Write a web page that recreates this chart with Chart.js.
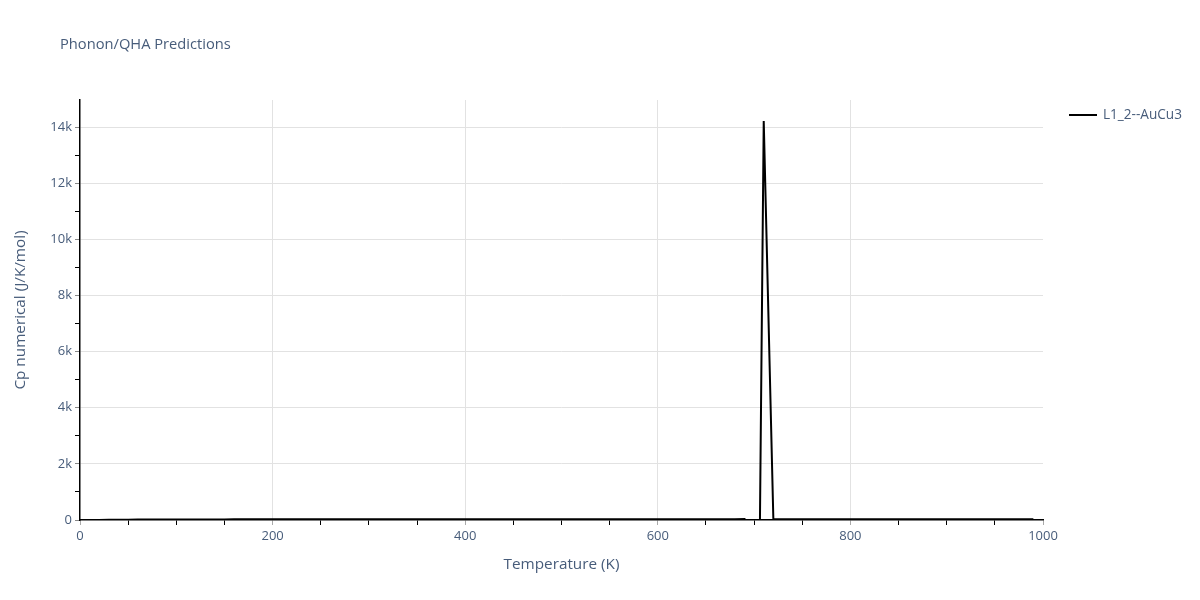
<!DOCTYPE html>
<html>
<head>
<meta charset="utf-8">
<script src="https://cdn.jsdelivr.net/npm/chart.js@4.4.0/dist/chart.umd.min.js"></script>
<style>
  html, body { margin: 0; background: #fff; }
  #wrap { width: 1200px; height: 600px; }
</style>
</head>
<body>
<div id="wrap"><canvas id="cpChart" width="1200" height="600"></canvas></div>
<script>
// 데이터
const temperatures = [
  0, 10, 20, 30, 40, 50, 60, 70, 80, 90,
  100, 110, 120, 130, 140, 150, 160, 170, 180, 190,
  200, 210, 220, 230, 240, 250, 260, 270, 280, 290,
  300, 310, 320, 330, 340, 350, 360, 370, 380, 390,
  400, 410, 420, 430, 440, 450, 460, 470, 480, 490,
  500, 510, 520, 530, 540, 550, 560, 570, 580, 590,
  600, 610, 620, 630, 640, 650, 660, 670, 680, 690,
  700, 710, 720, 730, 740, 750, 760, 770, 780, 790,
  800, 810, 820, 830, 840, 850, 860, 870, 880, 890,
  900, 910, 920, 930, 940, 950, 960, 970, 980, 990
];
const cpValues = [
  0, 0.5, 3, 6, 9, 12, 14, 16, 17.5, 18.5,
  19.5, 20.2, 20.8, 21.3, 21.8, 22.2, 22.5, 22.8, 23.1, 23.3,
  23.5, 23.7, 23.9, 24, 24.1, 24.2, 24.3, 24.4, 24.5, 24.6,
  24.7, 24.8, 24.9, 25, 25.1, 25.2, 25.3, 25.4, 25.5, 25.6,
  25.7, 25.8, 25.9, 26, 26.1, 26.2, 26.3, 26.4, 26.5, 26.6,
  26.7, 26.8, 26.9, 27, 27.1, 27.2, 27.3, 27.4, 27.5, 27.6,
  27.8, 28, 28.2, 28.4, 28.6, 28.9, 29.3, 29.8, 30.5, 31.5,
  -22000, 14220, 30, 28.5, 28.6, 28.7, 28.8, 28.9, 29, 29.1,
  29.2, 29.3, 29.4, 29.5, 29.6, 29.7, 29.8, 29.9, 30, 30.1,
  30.2, 30.3, 30.4, 30.5, 30.6, 30.7, 30.8, 30.9, 31, 31.1
];
// 눈금 (주 눈금 + 보조 눈금)
const xTickValues = [
  0, 50, 100, 150, 200, 250, 300, 350, 400, 450, 500,
  550, 600, 650, 700, 750, 800, 850, 900, 950, 1000
];
const yTickValues = [
  0, 1000, 2000, 3000, 4000, 5000, 6000, 7000,
  8000, 9000, 10000, 11000, 12000, 13000, 14000
];
const seriesLabel = 'L1_2--AuCu3';
const chartTitle = 'Phonon/QHA Predictions';
const xTitle = 'Temperature (K)';
const yTitle = 'Cp numerical (J/K/mol)';

const FONT = '"Open Sans", "DejaVu Sans", Arial, sans-serif';
const TEXT = '#475c7a';
const GRID = '#e2e2e2';

// 제목 + 범례 (plotly 스타일)
const decorPlugin = {
  id: 'decor',
  afterDraw(chart) {
    const ctx = chart.ctx;
    ctx.save();
    ctx.fillStyle = TEXT;
    ctx.font = '14.7px ' + FONT;
    ctx.textBaseline = 'middle';
    ctx.textAlign = 'left';
    ctx.fillText(chartTitle, 60, 45);

    const ds = chart.data.datasets[0];
    ctx.strokeStyle = ds.borderColor;
    ctx.lineWidth = 2;
    ctx.beginPath();
    ctx.moveTo(1069, 115);
    ctx.lineTo(1097, 115);
    ctx.stroke();
    ctx.font = '13.6px ' + FONT;
    ctx.fillText(ds.label, 1103, 115);
    ctx.restore();
  }
};

const ctx = document.getElementById('cpChart').getContext('2d');
const chart = new Chart(ctx, {
  type: 'line',
  data: {
    datasets: [{
      label: seriesLabel,
      data: temperatures.map((t, i) => ({x: t, y: cpValues[i]})),
      borderColor: '#000000',
      borderWidth: 2,
      pointRadius: 0,
      tension: 0,
      fill: false
    }]
  },
  options: {
    responsive: false,
    animation: false,
    layout: { padding: { top: 100, right: 157, bottom: 0, left: 0 } },
    plugins: {
      legend: { display: false },
      title: { display: false },
      tooltip: { enabled: false }
    },
    scales: {
      x: {
        type: 'linear',
        min: 0,
        max: 1000,
        afterFit: (s) => { s.height = 80; },
        afterBuildTicks: (s) => { s.ticks = xTickValues.map(v => ({value: v})); },
        border: { color: '#000', width: 1.5 },
        grid: {
          color: (c) => (c.tick && c.tick.value % 200 === 0 && c.tick.value !== 0 && c.tick.value !== 1000) ? GRID : 'rgba(0,0,0,0)',
          tickColor: (c) => (c.tick && c.tick.value % 200 === 0) ? '#aaaaaa' : '#000000',
          tickLength: 5,
          lineWidth: 1
        },
        ticks: {
          autoSkip: false,
          maxRotation: 0,
          color: TEXT,
          font: { size: 13, family: FONT },
          padding: 3,
          callback: (v) => (v % 200 === 0 ? String(v) : '')
        },
        title: {
          display: true,
          text: xTitle,
          color: TEXT,
          font: { size: 15.3, family: FONT },
          padding: { top: 0, bottom: 26 }
        }
      },
      y: {
        type: 'linear',
        min: 0,
        max: 14970,
        afterFit: (s) => { s.width = 80; },
        afterBuildTicks: (s) => { s.ticks = yTickValues.map(v => ({value: v})); },
        border: { color: '#000', width: 1.5 },
        grid: {
          color: (c) => (c.tick && c.tick.value % 2000 === 0 && c.tick.value !== 0) ? GRID : 'rgba(0,0,0,0)',
          tickColor: (c) => (c.tick && c.tick.value % 2000 === 0) ? '#888888' : '#000000',
          tickLength: 5,
          lineWidth: 1
        },
        ticks: {
          autoSkip: false,
          color: TEXT,
          font: { size: 13, family: FONT },
          padding: 3,
          callback: (v) => (v % 2000 === 0 ? (v === 0 ? '0' : (v / 1000) + 'k') : '')
        },
        title: {
          display: true,
          text: yTitle,
          color: TEXT,
          font: { size: 15.3, family: FONT },
          padding: { top: 11, bottom: 0 }
        }
      }
    }
  },
  plugins: [decorPlugin]
});
</script>
</body>
</html>
